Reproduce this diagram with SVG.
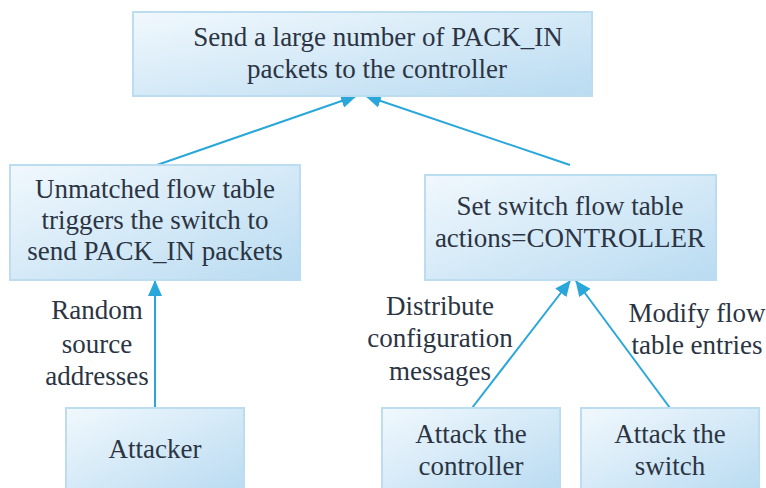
<svg xmlns="http://www.w3.org/2000/svg" width="766" height="488" viewBox="0 0 766 488">
<defs>
<linearGradient id="g" x1="0" y1="0" x2="1" y2="1">
<stop offset="0" stop-color="#f1f8fd"/>
<stop offset="1" stop-color="#b9dbf1"/>
</linearGradient>
<marker id="ah" markerWidth="16" markerHeight="14" refX="15" refY="7" orient="auto" markerUnits="userSpaceOnUse">
<path d="M0,0 L16,7 L0,14 Z" fill="#2aa7da"/>
</marker>
</defs>
<g id="connectors" stroke="#2aa7da" stroke-width="2" fill="none" marker-end="url(#ah)">
<line x1="157" y1="165" x2="356" y2="96"/>
<line x1="570" y1="165" x2="366" y2="96"/>
<line x1="155" y1="408" x2="155" y2="281"/>
<line x1="472" y1="408" x2="570" y2="281"/>
<line x1="670" y1="408" x2="576" y2="281"/>
</g>
<g font-family="Liberation Serif" font-size="27" fill="#2b3443" text-anchor="middle">
<g id="n-top">
<rect fill="url(#g)" stroke="#bcdcf0" stroke-width="2" x="133" y="12" width="459" height="84"/>
<text font-family="Liberation Serif" x="378" y="46">Send a large number of PACK_IN</text>
<text font-family="Liberation Serif" x="377" y="78">packets to the controller</text>
</g>
<g id="n-unmatched">
<rect fill="url(#g)" stroke="#bcdcf0" stroke-width="2" x="10" y="165" width="290" height="115"/>
<text font-family="Liberation Serif" x="155" y="198">Unmatched flow table</text>
<text font-family="Liberation Serif" x="155" y="229">triggers the switch to</text>
<text font-family="Liberation Serif" x="155" y="260">send PACK_IN packets</text>
</g>
<g id="n-set">
<rect fill="url(#g)" stroke="#bcdcf0" stroke-width="2" x="425" y="175" width="291" height="105"/>
<text font-family="Liberation Serif" x="570" y="215">Set switch flow table</text>
<text font-family="Liberation Serif" x="570" y="247">actions=CONTROLLER</text>
</g>
<g id="n-attacker">
<rect fill="url(#g)" stroke="#bcdcf0" stroke-width="2" x="66" y="408" width="178" height="84"/>
<text font-family="Liberation Serif" x="155" y="458">Attacker</text>
</g>
<g id="n-attack-controller">
<rect fill="url(#g)" stroke="#bcdcf0" stroke-width="2" x="382" y="408" width="178" height="84"/>
<text font-family="Liberation Serif" x="471" y="443">Attack the</text>
<text font-family="Liberation Serif" x="471" y="475">controller</text>
</g>
<g id="n-attack-switch">
<rect fill="url(#g)" stroke="#bcdcf0" stroke-width="2" x="581" y="408" width="178" height="84"/>
<text font-family="Liberation Serif" x="670" y="443">Attack the</text>
<text font-family="Liberation Serif" x="670" y="475">switch</text>
</g>
<g id="labels">
<text font-family="Liberation Serif" x="97" y="319">Random</text>
<text font-family="Liberation Serif" x="97" y="353">source</text>
<text font-family="Liberation Serif" x="97" y="385">addresses</text>
<text font-family="Liberation Serif" x="440" y="315">Distribute</text>
<text font-family="Liberation Serif" x="440" y="347">configuration</text>
<text font-family="Liberation Serif" x="440" y="380">messages</text>
<text font-family="Liberation Serif" x="697" y="322">Modify flow</text>
<text font-family="Liberation Serif" x="697" y="354">table entries</text>
</g>
</g>
</svg>
